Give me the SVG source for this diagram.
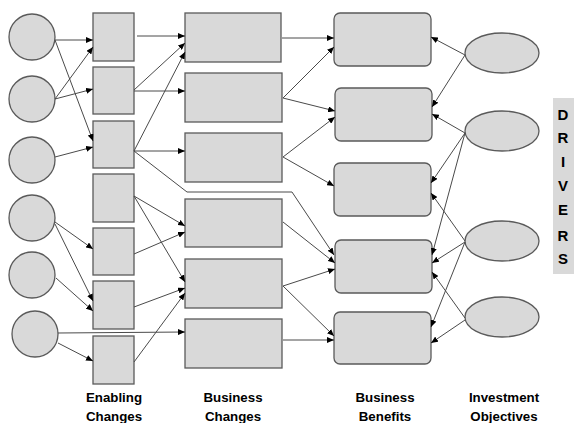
<svg xmlns="http://www.w3.org/2000/svg" width="574" height="423" viewBox="0 0 574 423">
<style>
.n{fill:#d9d9d9;stroke:#5a5a5a;stroke-width:1.3}
.c{fill:none;stroke:#4a4a4a;stroke-width:1}
.lbl{font-family:"Liberation Sans",Arial,sans-serif;font-weight:bold;font-size:13.3px;fill:#000;text-anchor:middle}
.drv{font-family:"Liberation Sans",Arial,sans-serif;font-weight:bold;font-size:15px;fill:#000;text-anchor:middle}
</style>
<defs>
<marker id="a" markerUnits="userSpaceOnUse" markerWidth="8" markerHeight="6" refX="7" refY="3" orient="auto">
<path d="M0,0 L7,3 L0,6 z" fill="#000"/>
</marker>
</defs>
<rect width="574" height="423" fill="#fff"/>
<g id="c1"><circle class="n" cx="32" cy="37" r="23"/></g>
<g id="c2"><circle class="n" cx="32" cy="99" r="23"/></g>
<g id="c3"><circle class="n" cx="32" cy="160" r="23"/></g>
<g id="c4"><circle class="n" cx="32" cy="218" r="23"/></g>
<g id="c5"><circle class="n" cx="32" cy="275" r="23"/></g>
<g id="c6"><circle class="n" cx="35" cy="334" r="23"/></g>
<g id="e1"><rect class="n" x="93" y="13" width="41" height="48"/></g>
<g id="e2"><rect class="n" x="93" y="67" width="41" height="47"/></g>
<g id="e3"><rect class="n" x="93" y="121" width="41" height="47"/></g>
<g id="e4"><rect class="n" x="93" y="174" width="41" height="48"/></g>
<g id="e5"><rect class="n" x="93" y="228" width="41" height="47"/></g>
<g id="e6"><rect class="n" x="93" y="281" width="41" height="48"/></g>
<g id="e7"><rect class="n" x="93" y="336" width="41" height="48"/></g>
<g id="b1"><rect class="n" x="185" y="13" width="96" height="49"/></g>
<g id="b2"><rect class="n" x="185" y="73" width="97" height="49"/></g>
<g id="b3"><rect class="n" x="185" y="133" width="97" height="49"/></g>
<g id="b4"><rect class="n" x="185" y="199" width="97" height="48"/></g>
<g id="b5"><rect class="n" x="185" y="259" width="97" height="49"/></g>
<g id="b6"><rect class="n" x="185" y="319" width="97" height="49"/></g>
<g id="f1"><rect class="n" x="334" y="13" width="97" height="53" rx="6"/></g>
<g id="f2"><rect class="n" x="335" y="88" width="97" height="53" rx="6"/></g>
<g id="f3"><rect class="n" x="334" y="163" width="97" height="53" rx="6"/></g>
<g id="f4"><rect class="n" x="335" y="240" width="97" height="53" rx="6"/></g>
<g id="f5"><rect class="n" x="334" y="312" width="97" height="52" rx="6"/></g>
<g id="o1"><ellipse class="n" cx="502" cy="53" rx="37" ry="20"/></g>
<g id="o2"><ellipse class="n" cx="502" cy="131" rx="37" ry="20"/></g>
<g id="o3"><ellipse class="n" cx="502" cy="241" rx="37" ry="20"/></g>
<g id="o4"><ellipse class="n" cx="502" cy="317" rx="37" ry="20"/></g>
<g id="drivers">
<rect x="553" y="98" width="21" height="176" fill="#d9d9d9"/>
<text class="drv" x="563" y="120">D</text>
<text class="drv" x="563" y="143">R</text>
<text class="drv" x="563" y="167">I</text>
<text class="drv" x="563" y="191">V</text>
<text class="drv" x="563" y="215">E</text>
<text class="drv" x="563" y="241">R</text>
<text class="drv" x="563" y="264">S</text>
</g>
<g id="connectors" marker-end="url(#a)">
<path class="c" d="M55,40 L93,40"/>
<path class="c" d="M55,40 L93,141"/>
<path class="c" d="M55,99 L93,47"/>
<path class="c" d="M55,99 L93,89"/>
<path class="c" d="M55,157 L93,147"/>
<path class="c" d="M55,222 L93,249"/>
<path class="c" d="M55,224 L93,301"/>
<path class="c" d="M56,278 L93,311"/>
<path class="c" d="M58,333 L185,332"/>
<path class="c" d="M58,343 L93,361"/>
<path class="c" d="M137,36 L185,36"/>
<path class="c" d="M134,90 L185,43"/>
<path class="c" d="M134,91 L185,91"/>
<path class="c" d="M134,151 L185,52"/>
<path class="c" d="M134,151 L185,151"/>
<path class="c" d="M134,151 L187,192 L292,192 L334,255"/>
<path class="c" d="M134,196 L185,226"/>
<path class="c" d="M134,196 L185,282"/>
<path class="c" d="M134,254 L185,232"/>
<path class="c" d="M134,307 L185,288"/>
<path class="c" d="M134,362 L185,293"/>
<path class="c" d="M282,38 L334,38"/>
<path class="c" d="M283,98 L334,47"/>
<path class="c" d="M283,98 L335,111"/>
<path class="c" d="M283,157 L335,117"/>
<path class="c" d="M283,157 L334,186"/>
<path class="c" d="M283,222 L335,263"/>
<path class="c" d="M283,286 L335,269"/>
<path class="c" d="M283,286 L334,336"/>
<path class="c" d="M283,340 L334,340"/>
<path class="c" d="M465,55 L431,37"/>
<path class="c" d="M465,55 L432,107"/>
<path class="c" d="M465,133 L432,114"/>
<path class="c" d="M465,133 L431,183"/>
<path class="c" d="M465,133 L432,255"/>
<path class="c" d="M465,241 L431,193"/>
<path class="c" d="M465,242 L432,263"/>
<path class="c" d="M465,242 L431,327"/>
<path class="c" d="M465,318 L432,272"/>
<path class="c" d="M465,320 L431,343"/>
</g>
<g id="labels">
<text class="lbl" x="114" y="402">Enabling</text>
<text class="lbl" x="114" y="421">Changes</text>
<text class="lbl" x="233" y="402">Business</text>
<text class="lbl" x="233" y="421">Changes</text>
<text class="lbl" x="385" y="402">Business</text>
<text class="lbl" x="385" y="421">Benefits</text>
<text class="lbl" x="504" y="402">Investment</text>
<text class="lbl" x="504" y="421">Objectives</text>
</g>
</svg>
